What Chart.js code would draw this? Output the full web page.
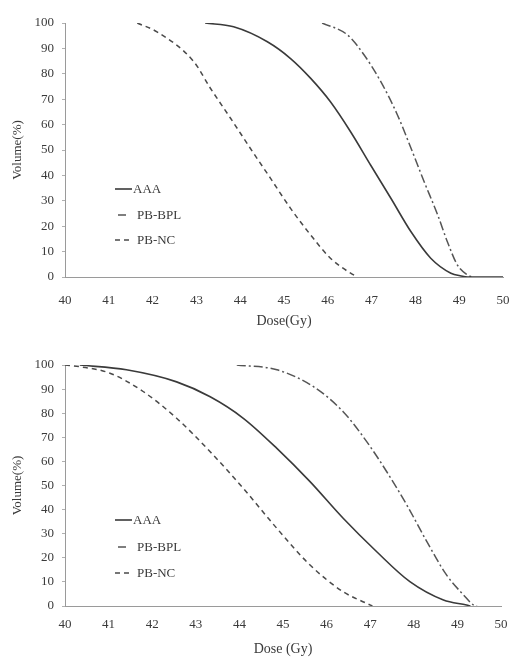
<!DOCTYPE html>
<html>
<head>
<meta charset="utf-8">
<script src="https://cdn.jsdelivr.net/npm/chart.js@4/dist/chart.umd.min.js"></script>
<style>
  body { margin: 0; background: #fff; }
  .box { position: absolute; left: 0; width: 512px; }
</style>
</head>
<body>
<div class="box" style="top:0;height:335px"><canvas id="topChart" width="512" height="335"></canvas></div>
<div class="box" style="top:335px;height:323px"><canvas id="bottomChart" width="512" height="323"></canvas></div>
<script>
// tick labels
const doseTicks = [40, 41, 42, 43, 44, 45, 46, 47, 48, 49, 50];
const volumeTicks = [0, 10, 20, 30, 40, 50, 60, 70, 80, 90, 100];
const seriesNames = ['AAA', 'PB-BPL', 'PB-NC'];

// top panel
const topAaaDose = [43.2, 43.85, 44.62, 45.15, 45.61, 46.06, 46.52, 46.98, 47.44, 47.9, 48.35, 48.81, 49.04, 49.2, 50];
const topAaaVol  = [100, 98.5, 92.6, 86, 78.2, 69, 57.2, 44, 31, 17.8, 7.4, 1.5, 0.4, 0, 0];
const topBplDose = [45.87, 46.45, 46.83, 47.21, 47.59, 47.9, 48.2, 48.51, 48.73, 48.96, 49.19, 49.3];
const topBplVol  = [100, 95.3, 87.4, 76.9, 63.8, 50.7, 37.5, 24.4, 13.9, 4.7, 0.8, 0];
const topNcDose  = [41.65, 42.1, 42.94, 43.32, 43.78, 44.23, 44.69, 45.15, 45.61, 46.06, 46.52, 46.68];
const topNcVol   = [100, 96.5, 84.8, 74.3, 62.5, 50.7, 38.9, 27, 16.5, 7.4, 1.5, 0];

// bottom panel
const botAaaDose = [40.34, 41.41, 42.56, 43.33, 44.09, 44.86, 45.62, 46.38, 47.15, 47.91, 48.68, 49.21, 49.3];
const botAaaVol  = [100, 98, 93, 86.8, 77.9, 65.4, 51.6, 36.4, 22.5, 10.1, 2.5, 0.4, 0];
const botBplDose = [43.94, 44.86, 45.7, 46.38, 46.92, 47.38, 47.84, 48.3, 48.75, 49.14, 49.37, 49.45];
const botBplVol  = [100, 98, 91, 80.6, 68.2, 55.7, 41.9, 26.7, 12.9, 4.6, 0.4, 0];
const botNcDose  = [40.0, 40.34, 41.03, 41.8, 42.56, 43.33, 44.09, 44.86, 45.62, 46.38, 46.92, 47.05];
const botNcVol   = [100, 99.3, 96.6, 88.9, 77.9, 64, 48.8, 32.2, 17, 5.9, 1.1, 0];

const serif = 'Liberation Serif';
const ink = '#3a3a3a';

// line looks per series
const looks = [
  { color: '#3a3a3a', width: 1.6, dash: [] },
  { color: '#555555', width: 1.5, dash: [9, 3, 2, 3] },
  { color: '#4a4a4a', width: 1.5, dash: [5, 4] }
];

function pts(xs, ys) {
  return xs.map((x, i) => ({ x: x, y: ys[i] }));
}

// legend drawn inside the plot, like the original
const innerLegend = {
  id: 'innerLegend',
  afterDraw(chart, args, opts) {
    const ctx = chart.ctx;
    ctx.save();
    ctx.font = '13px "' + serif + '"';
    ctx.textBaseline = 'middle';
    opts.rows.forEach((y, i) => {
      const lk = looks[i];
      ctx.strokeStyle = lk.color;
      ctx.lineWidth = lk.width;
      ctx.setLineDash(i === 1 ? [] : lk.dash);
      ctx.beginPath();
      if (i === 1) { ctx.moveTo(opts.x + 3, y); ctx.lineTo(opts.x + 11, y); }
      else { ctx.moveTo(opts.x, y); ctx.lineTo(opts.x + 17, y); }
      ctx.stroke();
      ctx.setLineDash([]);
      ctx.fillStyle = ink;
      ctx.fillText(seriesNames[i], opts.x + (i === 0 ? 18 : 22), y + 1);
    });
    ctx.restore();
  }
};

function makeChart(id, sets, box) {
  const datasets = sets.map((s, i) => ({
    label: seriesNames[i],
    data: pts(s[0], s[1]),
    borderColor: looks[i].color,
    borderWidth: looks[i].width,
    borderDash: looks[i].dash,
    pointRadius: 0,
    cubicInterpolationMode: 'monotone',
    fill: false
  }));

  return new Chart(document.getElementById(id), {
    type: 'line',
    data: { datasets: datasets },
    options: {
      responsive: false,
      animation: false,
      layout: { padding: { top: box.top, right: box.right, left: 0, bottom: 0 } },
      plugins: {
        legend: { display: false },
        tooltip: { enabled: false },
        innerLegend: { x: box.legX, rows: box.legRows }
      },
      scales: {
        x: {
          type: 'linear',
          min: 40, max: 50,
          afterBuildTicks: sc => { sc.ticks = doseTicks.map(v => ({ value: v })); },
          afterFit: sc => { sc.height = box.xh; sc.paddingLeft = 0; sc.paddingRight = 0; },
          grid: { display: false, drawTicks: false },
          border: { color: '#9a9a9a', width: 1 },
          ticks: { padding: box.xpad, color: ink, font: { family: serif, size: 13 }, maxRotation: 0 },
          title: { display: true, text: box.xTitle, color: ink, font: { family: serif, size: 14 }, padding: { top: 0, bottom: box.tpad } }
        },
        y: {
          min: 0, max: 100,
          afterBuildTicks: sc => { sc.ticks = volumeTicks.map(v => ({ value: v })); },
          afterFit: sc => { sc.width = 65; sc.paddingTop = 0; sc.paddingBottom = 0; },
          grid: { drawOnChartArea: false, drawTicks: true, tickLength: 3, color: '#b0b0b0' },
          border: { color: '#9a9a9a', width: 1 },
          ticks: { padding: 8, color: ink, font: { family: serif, size: 13 } },
          title: { display: true, text: 'Volume(%)', color: ink, font: { family: serif, size: 13 }, padding: { top: 10, bottom: 0 } }
        }
      }
    },
    plugins: [innerLegend]
  });
}

makeChart('topChart',
  [[topAaaDose, topAaaVol], [topBplDose, topBplVol], [topNcDose, topNcVol]],
  { top: 23, right: 9, xh: 58, xpad: 16, tpad: 5, xTitle: 'Dose(Gy)', legX: 115, legRows: [189, 215, 240] });

makeChart('bottomChart',
  [[botAaaDose, botAaaVol], [botBplDose, botBplVol], [botNcDose, botNcVol]],
  { top: 30, right: 11, xh: 52, xpad: 11, tpad: 0, xTitle: 'Dose (Gy)', legX: 115, legRows: [185, 212, 238] });
</script>
</body>
</html>
